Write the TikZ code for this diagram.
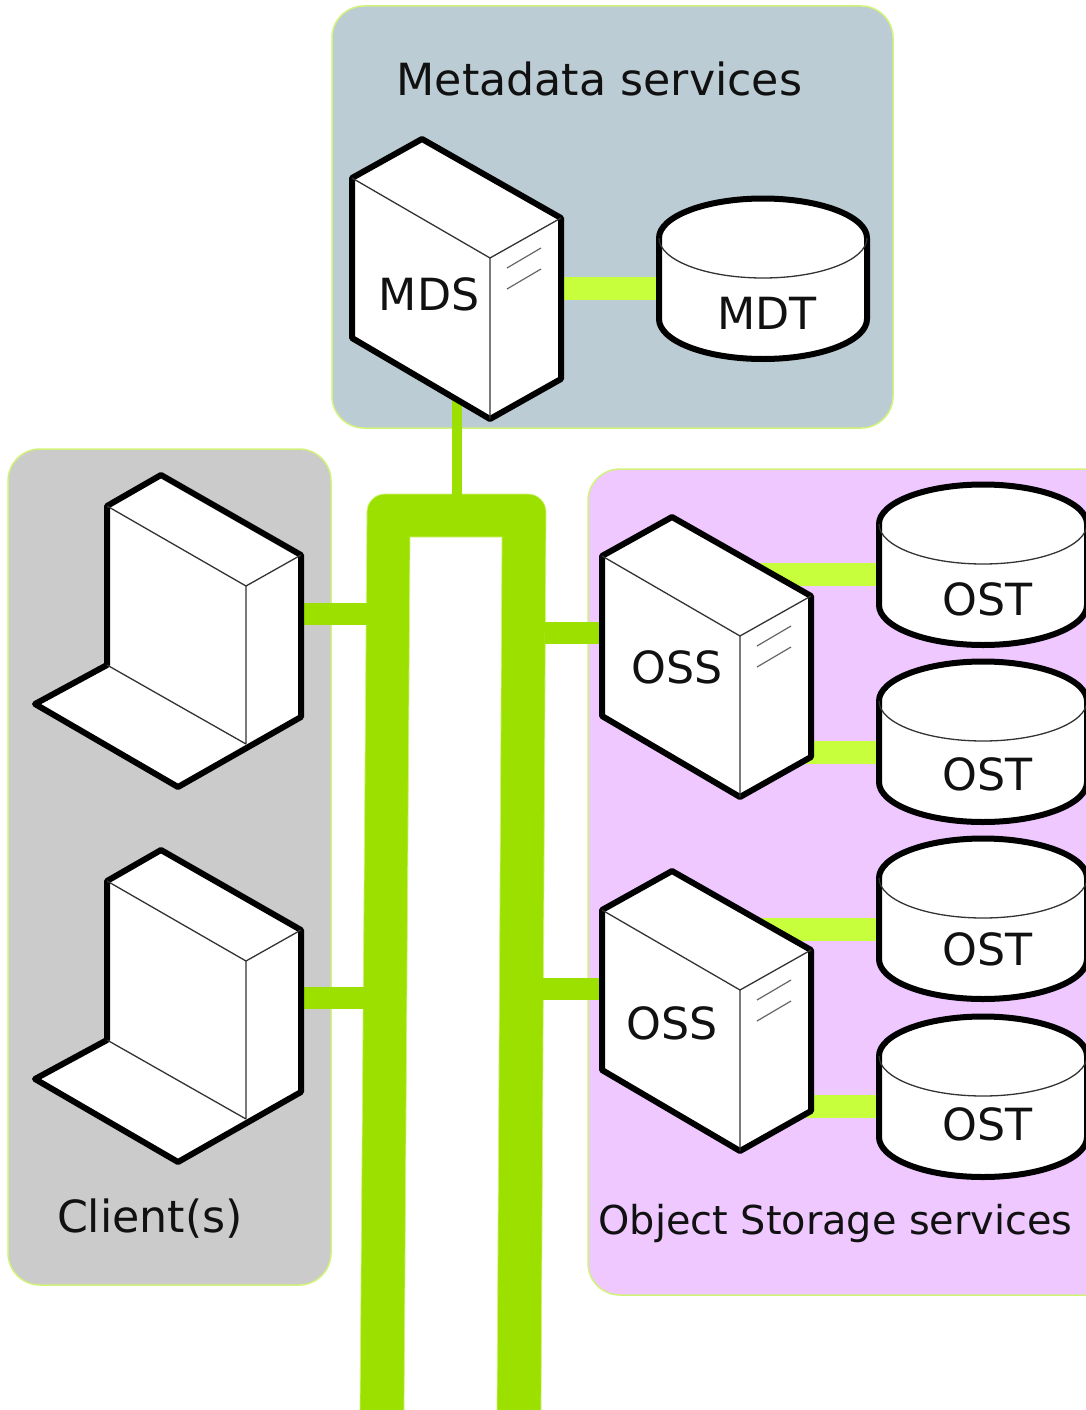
\documentclass[tikz,border=0pt]{standalone}
\usepackage{fontspec}
\setmainfont{DejaVu Sans}
\definecolor{busgreen}{HTML}{9CE000}
\definecolor{linkgreen}{HTML}{C8FF3C}
\definecolor{edgegreen}{HTML}{D2F27A}
\definecolor{mdsbg}{HTML}{BBCCD4}
\definecolor{clientbg}{HTML}{CBCBCB}
\definecolor{ossbg}{HTML}{EFC8FF}
\definecolor{ink}{HTML}{111111}
\tikzset{
  zonebox/.style={fill=#1,draw=edgegreen,line width=1.5pt,rounded corners=32pt},
  buslink/.style={draw=busgreen,line width=22pt},
  disklink/.style={draw=linkgreen,line width=23pt},
  solid body/.style={fill=white,draw=black,line width=6pt,line join=round},
  thin edge/.style={draw=black!80,line width=1.3pt},
  vent/.style={draw=black!60,line width=1.2pt},
  biglabel/.style={anchor=base,inner sep=0pt,text=ink,font=\fontsize{44.3}{50}\selectfont},
  smalllabel/.style={anchor=base,inner sep=0pt,text=ink,font=\fontsize{39.8}{46}\selectfont}
}
\newcommand{\serverbox}[6]{%
  \begin{scope}[shift={(#2,#3)}]
    \path[solid body] (0,0) -- (70,-39) -- (209,40) -- (209,201) -- (138,241) -- (0,160) -- cycle;
    \draw[thin edge] (0,0) -- (138,80) -- (209,40) (138,80) -- (138,241);
    \draw[vent] (155,90) -- (189,70) (155,111) -- (189,91);
    \node[biglabel] (#1) at (#4,#5) {#6};
  \end{scope}}
\newcommand{\clientbox}[3]{%
  \begin{scope}[shift={(#2,#3)}]
    \path[solid body] (0,0) -- (54,-31) -- (194,49) -- (194,211) -- (71,281) -- (-72,198) -- (0,159) -- cycle;
    \draw[thin edge] (0,0) -- (139,80) -- (194,49) (139,80) -- (139,238) (0,159) -- (139,238);
  \end{scope}
  \coordinate (#1) at (#2,#3);}
\newcommand{\diskunit}[6]{%
  \begin{scope}[shift={(#2,#3)}]
    \path[solid body] (-104,0) .. controls (-104,-21.5) and (-57.4,-39.5) .. (0,-39.5)
      .. controls (57.4,-39.5) and (104,-21.5) .. (104,0) -- (104,81)
      .. controls (104,103) and (57.4,121) .. (0,121)
      .. controls (-57.4,121) and (-104,103) .. (-104,81) -- cycle;
    \draw[thin edge] (-104,0) .. controls (-104,22) and (-57.4,40) .. (0,40)
      .. controls (57.4,40) and (104,22) .. (104,0);
    \node[biglabel] (#1) at (#5,#6) {#4};
  \end{scope}}
\begin{document}
\begin{tikzpicture}[x=1pt,y=-1pt]
\clip (0,0) rectangle (1086,1410);
\fill[white] (0,0) rectangle (1086,1410);
% zones
\path[zonebox=mdsbg] (332,6) rectangle (893,428);
\path[zonebox=clientbg] (8,449) rectangle (331,1285);
\path[zonebox=ossbg] (588,469) rectangle (1120,1295);
% bus
\path[fill=busgreen,draw=edgegreen,line width=.7pt]
  (360,1412) -- (367,512) .. controls (367,502) and (375,494) .. (385,494)
  -- (528,494) .. controls (538,494) and (546,502) .. (546,512)
  -- (541,1412) -- (497,1412) -- (502,537) -- (410,537) -- (404,1412) -- cycle;
% connector ends
\coordinate (mdsDown) at (457,400);
\coordinate (busTop) at (457,495);
\coordinate (cl1R) at (298,613.5);
\coordinate (cl1B) at (368,613.5);
\coordinate (cl2R) at (298,997.5);
\coordinate (cl2B) at (364,997.5);
\coordinate (oss1B) at (545,632.5);
\coordinate (oss1L) at (604,632.5);
\coordinate (oss2B) at (541,988.5);
\coordinate (oss2L) at (604,988.5);
\coordinate (mdsR) at (558,288.5);
\coordinate (mdtL) at (662,288.5);
\coordinate (a1) at (760,574);
\coordinate (a2) at (884,574);
\coordinate (b1) at (805,752);
\coordinate (b2) at (884,752);
\coordinate (c1) at (760,929);
\coordinate (c2) at (884,929);
\coordinate (d1) at (805,1106);
\coordinate (d2) at (884,1106);
% connectors
\draw[buslink,line width=10pt] (mdsDown) -- (busTop);
\draw[buslink] (cl1R) -- (cl1B);
\draw[buslink] (cl2R) -- (cl2B);
\draw[buslink] (oss1B) -- (oss1L);
\draw[buslink] (oss2B) -- (oss2L);
\draw[disklink] (mdsR) -- (mdtL);
\draw[disklink] (a1) -- (a2);
\draw[disklink] (b1) -- (b2);
\draw[disklink] (c1) -- (c2);
\draw[disklink] (d1) -- (d2);
% machines
\serverbox{mds}{352}{178}{77}{132}{MDS}
\serverbox{ossA}{602}{556}{75}{127}{OSS}
\serverbox{ossB}{602}{910}{70}{129.5}{OSS}
\clientbox{clientA}{107}{506}
\clientbox{clientB}{107}{881}
% disks
\diskunit{MDT}{763}{238}{MDT}{4}{91}
\diskunit{OSTa}{983}{524}{OST}{5}{91}
\diskunit{OSTb}{983}{701}{OST}{5}{89}
\diskunit{OSTc}{983}{878}{OST}{5}{87}
\diskunit{OSTd}{983}{1056}{OST}{5}{84}
% titles
\node[biglabel] (metaTitle) at (599.5,96) {Metadata services};
\node[biglabel] (clientTitle) at (150,1232) {Client(s)};
\node[smalllabel] (ossTitle) at (835.5,1234) {Object Storage services};
\end{tikzpicture}
\end{document}
